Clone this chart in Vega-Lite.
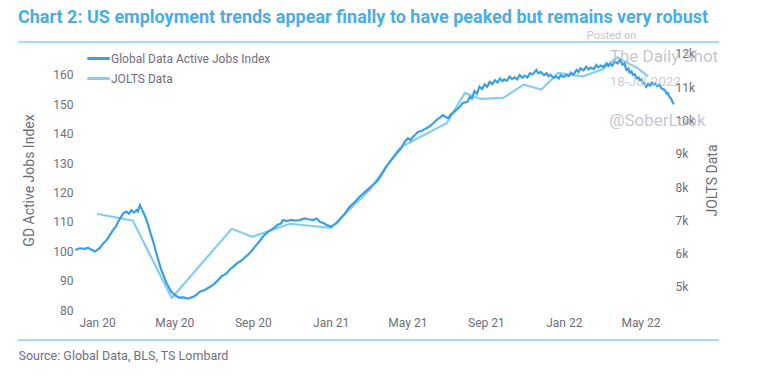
{
  "$schema": "https://vega.github.io/schema/vega-lite/v6.json",
  "width": 598,
  "height": 260,
  "autosize": "none",
  "padding": {"left": 75, "top": 50, "right": 87, "bottom": 74},
  "background": "white",
  "config": {
    "view": {"stroke": null},
    "font": "Roboto",
    "axis": {"grid": false, "domain": false, "ticks": false, "labelOverlap": false, "labelFont": "Roboto", "labelFontSize": 12, "labelColor": "#6e6e7c", "titleFont": "Roboto", "titleColor": "#6e6e7c", "titleFontWeight": "normal"},
    "legend": {
      "orient": "none", "legendX": 15, "legendY": 0, "title": null, "padding": 0,
      "symbolType": "M-1.6,0H1.6", "symbolSize": 196, "symbolStrokeWidth": 3,
      "labelFont": "Roboto", "labelFontSize": 12, "labelColor": "#6e6e7c", "labelOffset": 4, "rowPadding": 5
    }
  },
  "title": {
    "text": "Chart 2: US employment trends appear finally to have peaked but remains very robust",
    "anchor": "start", "frame": "group", "dx": -57, "dy": 21, "offset": 6, "baseline": "bottom",
    "font": "Roboto", "fontSize": 18, "fontWeight": "bold", "color": "#49ade8"
  },
  "datasets": {
    "gd": [
      {"d": "2019-11-28", "v": 100.4}, {"d": "2019-12-05", "v": 101.0}, {"d": "2019-12-13", "v": 100.8}, {"d": "2019-12-18", "v": 101.2},
      {"d": "2019-12-24", "v": 100.4}, {"d": "2019-12-29", "v": 99.9}, {"d": "2020-01-02", "v": 100.6}, {"d": "2020-01-05", "v": 101.0},
      {"d": "2020-01-10", "v": 102.5}, {"d": "2020-01-16", "v": 103.8}, {"d": "2020-01-21", "v": 105.5}, {"d": "2020-01-26", "v": 107.2},
      {"d": "2020-01-31", "v": 108.5}, {"d": "2020-02-03", "v": 110.0}, {"d": "2020-02-07", "v": 111.5}, {"d": "2020-02-11", "v": 112.9},
      {"d": "2020-02-16", "v": 113.5}, {"d": "2020-02-20", "v": 112.8}, {"d": "2020-02-24", "v": 114.0}, {"d": "2020-02-28", "v": 113.2},
      {"d": "2020-03-03", "v": 114.0}, {"d": "2020-03-05", "v": 113.5}, {"d": "2020-03-08", "v": 115.7}, {"d": "2020-03-13", "v": 113.5},
      {"d": "2020-03-17", "v": 111.5}, {"d": "2020-03-21", "v": 109.0}, {"d": "2020-03-25", "v": 106.0}, {"d": "2020-03-29", "v": 103.3},
      {"d": "2020-04-02", "v": 100.0}, {"d": "2020-04-06", "v": 97.0}, {"d": "2020-04-10", "v": 94.0}, {"d": "2020-04-14", "v": 91.9},
      {"d": "2020-04-18", "v": 89.5}, {"d": "2020-04-22", "v": 87.9}, {"d": "2020-04-26", "v": 86.3}, {"d": "2020-05-02", "v": 85.1},
      {"d": "2020-05-08", "v": 84.2}, {"d": "2020-05-15", "v": 84.3}, {"d": "2020-05-22", "v": 83.9}, {"d": "2020-05-31", "v": 84.5},
      {"d": "2020-06-05", "v": 85.2}, {"d": "2020-06-10", "v": 86.2}, {"d": "2020-06-18", "v": 86.8}, {"d": "2020-06-26", "v": 87.9},
      {"d": "2020-07-02", "v": 88.8}, {"d": "2020-07-09", "v": 90.2}, {"d": "2020-07-14", "v": 91.5}, {"d": "2020-07-21", "v": 92.3},
      {"d": "2020-07-27", "v": 93.8}, {"d": "2020-08-01", "v": 94.7}, {"d": "2020-08-08", "v": 96.0}, {"d": "2020-08-15", "v": 97.0},
      {"d": "2020-08-21", "v": 98.2}, {"d": "2020-08-27", "v": 99.3}, {"d": "2020-09-04", "v": 101.5}, {"d": "2020-09-10", "v": 103.0},
      {"d": "2020-09-17", "v": 105.0}, {"d": "2020-09-24", "v": 106.5}, {"d": "2020-10-03", "v": 107.8}, {"d": "2020-10-10", "v": 109.0},
      {"d": "2020-10-15", "v": 109.4}, {"d": "2020-10-18", "v": 110.6}, {"d": "2020-10-24", "v": 110.3}, {"d": "2020-10-31", "v": 110.7},
      {"d": "2020-11-06", "v": 110.4}, {"d": "2020-11-13", "v": 110.6}, {"d": "2020-11-21", "v": 111.2}, {"d": "2020-11-29", "v": 110.8},
      {"d": "2020-12-04", "v": 110.6}, {"d": "2020-12-10", "v": 111.1}, {"d": "2020-12-15", "v": 110.0}, {"d": "2020-12-21", "v": 109.5},
      {"d": "2020-12-27", "v": 108.8}, {"d": "2021-01-02", "v": 108.4}, {"d": "2021-01-06", "v": 109.0}, {"d": "2021-01-10", "v": 109.5},
      {"d": "2021-01-15", "v": 110.8}, {"d": "2021-01-23", "v": 112.8}, {"d": "2021-01-31", "v": 115.2}, {"d": "2021-02-08", "v": 116.8},
      {"d": "2021-02-14", "v": 118.3}, {"d": "2021-02-21", "v": 119.7}, {"d": "2021-02-28", "v": 121.0}, {"d": "2021-03-06", "v": 122.2},
      {"d": "2021-03-14", "v": 123.7}, {"d": "2021-03-20", "v": 125.5}, {"d": "2021-03-29", "v": 128.8}, {"d": "2021-04-05", "v": 130.8},
      {"d": "2021-04-14", "v": 133.3}, {"d": "2021-04-21", "v": 135.0}, {"d": "2021-04-27", "v": 137.3}, {"d": "2021-05-02", "v": 138.5},
      {"d": "2021-05-06", "v": 137.8}, {"d": "2021-05-10", "v": 139.0}, {"d": "2021-05-14", "v": 139.8}, {"d": "2021-05-18", "v": 140.7},
      {"d": "2021-05-24", "v": 141.0}, {"d": "2021-05-31", "v": 141.9}, {"d": "2021-06-05", "v": 142.5}, {"d": "2021-06-10", "v": 143.5},
      {"d": "2021-06-16", "v": 144.7}, {"d": "2021-06-21", "v": 145.5}, {"d": "2021-06-26", "v": 146.4}, {"d": "2021-06-29", "v": 145.8},
      {"d": "2021-07-04", "v": 145.3}, {"d": "2021-07-09", "v": 146.8}, {"d": "2021-07-17", "v": 148.1}, {"d": "2021-07-22", "v": 149.2},
      {"d": "2021-07-27", "v": 150.5}, {"d": "2021-08-03", "v": 150.9}, {"d": "2021-08-07", "v": 152.6}, {"d": "2021-08-10", "v": 152.0},
      {"d": "2021-08-14", "v": 154.5}, {"d": "2021-08-18", "v": 153.6}, {"d": "2021-08-22", "v": 156.0}, {"d": "2021-08-26", "v": 155.2},
      {"d": "2021-08-30", "v": 156.8}, {"d": "2021-09-03", "v": 156.0}, {"d": "2021-09-07", "v": 157.7}, {"d": "2021-09-11", "v": 156.9},
      {"d": "2021-09-15", "v": 158.2}, {"d": "2021-09-19", "v": 157.4}, {"d": "2021-09-23", "v": 158.8}, {"d": "2021-09-27", "v": 157.9},
      {"d": "2021-09-30", "v": 158.5}, {"d": "2021-10-04", "v": 158.0}, {"d": "2021-10-08", "v": 159.5}, {"d": "2021-10-12", "v": 158.6},
      {"d": "2021-10-16", "v": 159.2}, {"d": "2021-10-20", "v": 158.5}, {"d": "2021-10-24", "v": 160.0}, {"d": "2021-10-28", "v": 159.1},
      {"d": "2021-11-01", "v": 159.8}, {"d": "2021-11-05", "v": 159.2}, {"d": "2021-11-09", "v": 160.6}, {"d": "2021-11-13", "v": 160.2},
      {"d": "2021-11-16", "v": 160.9}, {"d": "2021-11-19", "v": 161.7}, {"d": "2021-11-22", "v": 160.6}, {"d": "2021-11-26", "v": 161.0},
      {"d": "2021-12-01", "v": 160.0}, {"d": "2021-12-05", "v": 160.6}, {"d": "2021-12-08", "v": 159.6}, {"d": "2021-12-11", "v": 160.1},
      {"d": "2021-12-16", "v": 159.0}, {"d": "2021-12-20", "v": 159.5}, {"d": "2021-12-24", "v": 158.8}, {"d": "2021-12-27", "v": 159.9},
      {"d": "2022-01-01", "v": 159.3}, {"d": "2022-01-05", "v": 160.0}, {"d": "2022-01-09", "v": 159.6}, {"d": "2022-01-12", "v": 160.8},
      {"d": "2022-01-16", "v": 160.1}, {"d": "2022-01-21", "v": 161.7}, {"d": "2022-01-24", "v": 161.0}, {"d": "2022-01-27", "v": 162.3},
      {"d": "2022-02-01", "v": 161.6}, {"d": "2022-02-05", "v": 162.8}, {"d": "2022-02-09", "v": 161.9}, {"d": "2022-02-12", "v": 162.5},
      {"d": "2022-02-17", "v": 162.0}, {"d": "2022-02-21", "v": 163.4}, {"d": "2022-02-24", "v": 162.6}, {"d": "2022-02-28", "v": 163.2},
      {"d": "2022-03-04", "v": 162.7}, {"d": "2022-03-09", "v": 164.0}, {"d": "2022-03-12", "v": 163.1}, {"d": "2022-03-15", "v": 163.8},
      {"d": "2022-03-18", "v": 163.2}, {"d": "2022-03-22", "v": 164.6}, {"d": "2022-03-26", "v": 163.9}, {"d": "2022-03-30", "v": 165.1},
      {"d": "2022-04-03", "v": 163.5}, {"d": "2022-04-06", "v": 163.9}, {"d": "2022-04-09", "v": 161.7}, {"d": "2022-04-12", "v": 162.2},
      {"d": "2022-04-14", "v": 160.8}, {"d": "2022-04-17", "v": 161.2}, {"d": "2022-04-19", "v": 160.0}, {"d": "2022-04-22", "v": 160.3},
      {"d": "2022-04-25", "v": 158.9}, {"d": "2022-04-28", "v": 159.2}, {"d": "2022-04-30", "v": 158.3}, {"d": "2022-05-03", "v": 158.5},
      {"d": "2022-05-05", "v": 157.3}, {"d": "2022-05-08", "v": 157.0}, {"d": "2022-05-10", "v": 156.0}, {"d": "2022-05-13", "v": 156.9},
      {"d": "2022-05-16", "v": 156.4}, {"d": "2022-05-19", "v": 157.4}, {"d": "2022-05-21", "v": 156.8}, {"d": "2022-05-24", "v": 157.1},
      {"d": "2022-05-27", "v": 156.2}, {"d": "2022-05-31", "v": 156.6}, {"d": "2022-06-03", "v": 155.4}, {"d": "2022-06-07", "v": 155.0},
      {"d": "2022-06-09", "v": 154.6}, {"d": "2022-06-11", "v": 153.7}, {"d": "2022-06-13", "v": 153.9}, {"d": "2022-06-15", "v": 152.7},
      {"d": "2022-06-17", "v": 152.2}, {"d": "2022-06-19", "v": 151.5}, {"d": "2022-06-22", "v": 150.0}
    ],
    "jolts": [
      {"d": "2020-01-01", "j": 7200}, {"d": "2020-02-26", "j": 6990}, {"d": "2020-04-27", "j": 4670}, {"d": "2020-07-30", "j": 6750},
      {"d": "2020-08-31", "j": 6510}, {"d": "2020-10-29", "j": 6900}, {"d": "2021-01-01", "j": 6780}, {"d": "2021-03-03", "j": 7920},
      {"d": "2021-04-19", "j": 9180}, {"d": "2021-07-02", "j": 9930}, {"d": "2021-07-30", "j": 10830}, {"d": "2021-08-23", "j": 10650},
      {"d": "2021-09-28", "j": 10680}, {"d": "2021-10-30", "j": 11080}, {"d": "2021-11-27", "j": 10930}, {"d": "2021-12-23", "j": 11430},
      {"d": "2022-01-31", "j": 11330}, {"d": "2022-03-03", "j": 11540}, {"d": "2022-03-25", "j": 11900}, {"d": "2022-04-27", "j": 11570},
      {"d": "2022-05-13", "j": 11330}
    ],
    "rules": [
      {"d0": "2019-08-30", "d1": "2022-09-01", "v": 171.2},
      {"d0": "2019-08-30", "d1": "2022-09-01", "v": 69.8}
    ]
  },
  "layer": [
    {
      "data": {"name": "jolts"},
      "mark": {"type": "line", "strokeWidth": 2.2},
      "encoding": {
        "x": {"field": "d", "type": "temporal", "scale": {"type": "utc", "domain": [{"year": 2019, "month": 11, "date": 27, "hours": 12, "utc": true}, {"year": 2022, "month": 6, "date": 21, "utc": true}]}},
        "y": {"field": "j", "type": "quantitative", "scale": {"domain": [4309, 12120], "nice": false, "zero": false},
              "axis": {"orient": "right", "title": "JOLTS Data", "values": [5000, 6000, 7000, 8000, 9000, 10000, 11000, 12000], "format": "~s", "labelPadding": 2, "titleFontSize": 14, "titleAngle": 270, "titleX": 39, "titleY": 130, "titleAlign": "center", "titleBaseline": "middle"}},
        "color": {"datum": "JOLTS Data"}
      }
    },
    {
      "layer": [
        {
          "data": {"name": "gd"},
          "mark": {"type": "line", "strokeWidth": 2.2},
          "encoding": {
            "x": {"field": "d", "type": "temporal", "scale": {"type": "utc", "domain": [{"year": 2019, "month": 11, "date": 27, "hours": 12, "utc": true}, {"year": 2022, "month": 6, "date": 21, "utc": true}]},
                  "axis": {"title": "Source: Global Data, BLS, TS Lombard", "labelExpr": "utcFormat(datum.value, '%b %y')", "labelPadding": 7, "labelFlush": false,
                           "values": [{"year": 2020, "month": 1, "date": 1, "utc": true}, {"year": 2020, "month": 5, "date": 1, "utc": true}, {"year": 2020, "month": 9, "date": 1, "utc": true}, {"year": 2021, "month": 1, "date": 1, "utc": true}, {"year": 2021, "month": 5, "date": 1, "utc": true}, {"year": 2021, "month": 9, "date": 1, "utc": true}, {"year": 2022, "month": 1, "date": 1, "utc": true}, {"year": 2022, "month": 5, "date": 1, "utc": true}],
                           "titleX": -57, "titleY": 45, "titleAlign": "left", "titleBaseline": "middle", "titleFontSize": 12.5, "titleColor": "#707080"}},
            "y": {"field": "v", "type": "quantitative", "scale": {"domain": [80, 168.51], "nice": false, "zero": false},
                  "axis": {"orient": "left", "title": "GD Active Jobs Index", "values": [80, 90, 100, 110, 120, 130, 140, 150, 160], "tickCount": 9, "labelPadding": 2, "titleFontSize": 14, "titleAngle": 270, "titleX": -46, "titleY": 130, "titleAlign": "center", "titleBaseline": "middle"}},
            "color": {"datum": "Global Data Active Jobs Index", "scale": {"domain": ["Global Data Active Jobs Index", "JOLTS Data"], "range": ["#3a9fe4", "#86cdf1"]}}
          }
        },
        {
          "data": {"name": "rules"},
          "mark": {"type": "rule", "color": "#a9dcf4", "strokeWidth": 2},
          "encoding": {
            "x": {"field": "d0", "type": "temporal"},
            "x2": {"field": "d1"},
            "y": {"field": "v", "type": "quantitative"}
          }
        },
        {
          "data": {"values": [{"d": "2022-02-06", "v": 173.3, "t": "Posted on"}]},
          "mark": {"type": "text", "align": "left", "baseline": "middle", "fontSize": 11, "color": "#c4c4ce"},
          "encoding": {"x": {"field": "d", "type": "temporal"}, "y": {"field": "v", "type": "quantitative"}, "text": {"field": "t"}}
        },
        {
          "data": {"values": [{"d": "2022-03-14", "v": 166.1, "t": "The Daily Shot"}, {"d": "2022-03-13", "v": 144.3, "t": "@SoberLook"}]},
          "mark": {"type": "text", "align": "left", "baseline": "middle", "fontSize": 17, "color": "#bdbdca", "opacity": 0.85},
          "encoding": {"x": {"field": "d", "type": "temporal"}, "y": {"field": "v", "type": "quantitative"}, "text": {"field": "t"}}
        },
        {
          "data": {"values": [{"d": "2022-03-14", "v": 157.6, "t": "18-Jul-2022"}]},
          "mark": {"type": "text", "align": "left", "baseline": "middle", "fontSize": 13.5, "color": "#c4c4ce", "opacity": 0.85},
          "encoding": {"x": {"field": "d", "type": "temporal"}, "y": {"field": "v", "type": "quantitative"}, "text": {"field": "t"}}
        }
      ]
    }
  ],
  "resolve": {"scale": {"y": "independent", "color": "shared"}}
}
